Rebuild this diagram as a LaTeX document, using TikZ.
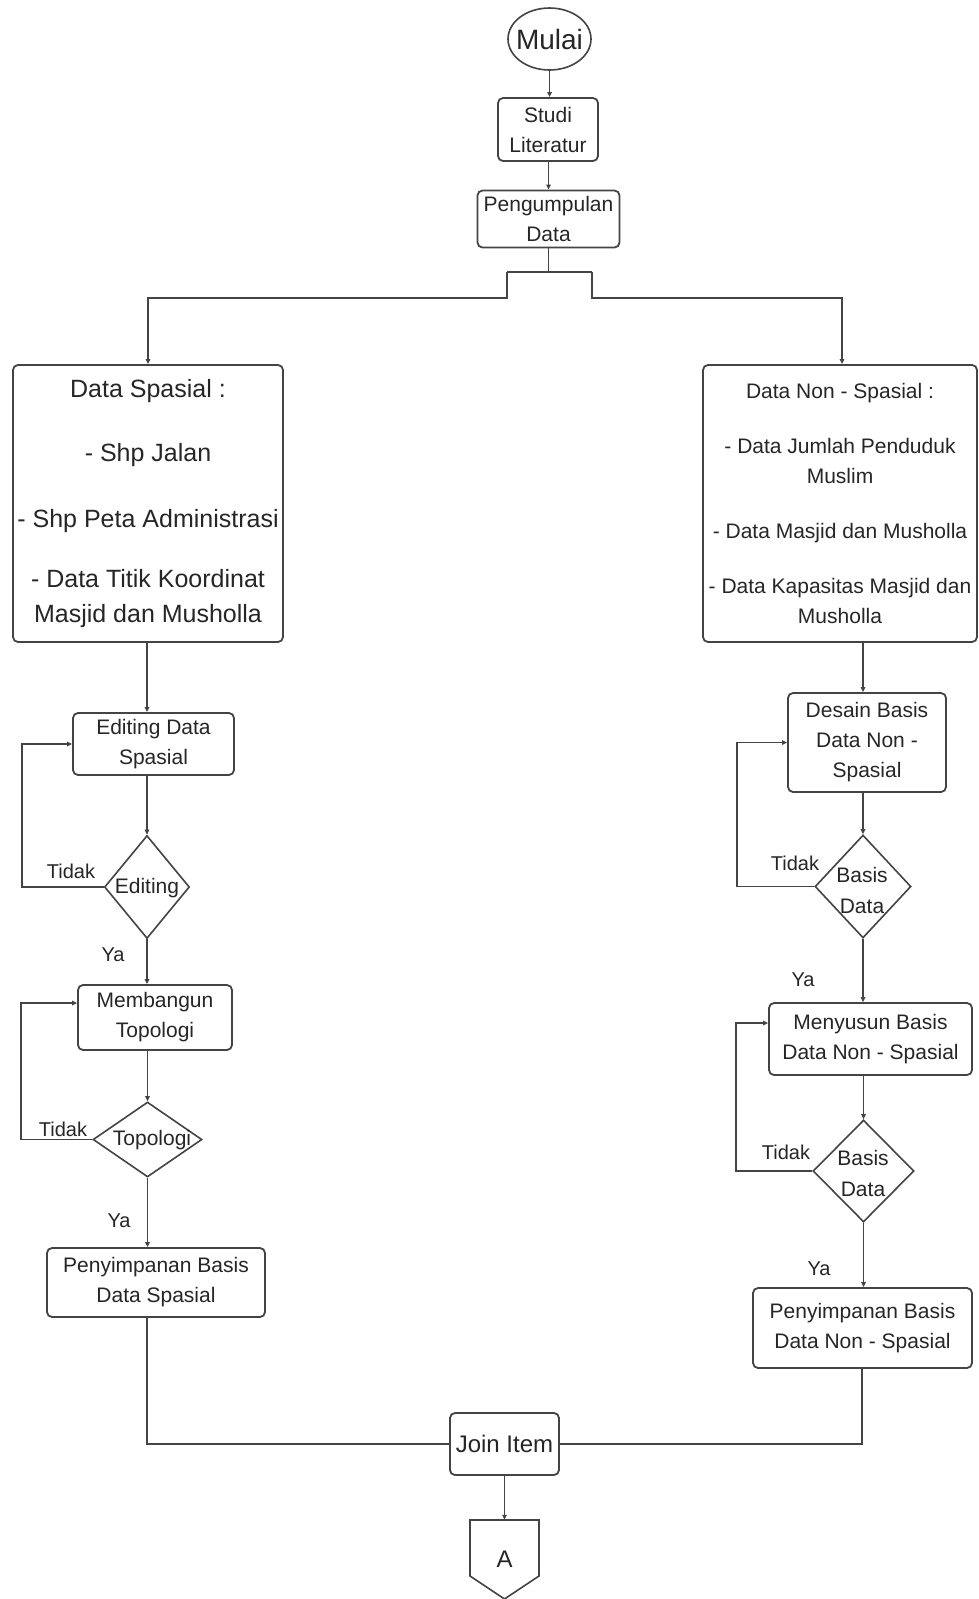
\documentclass[tikz,border=0pt]{standalone}
\usepackage{fontspec}
\setmainfont{Liberation Sans}
\usetikzlibrary{shapes.geometric,arrows.meta,calc}
\definecolor{ln}{HTML}{444444}
\definecolor{tx}{HTML}{262626}
\begin{document}
\begin{tikzpicture}[x=1pt,y=-1pt,
  box/.style={draw=ln, line width=1.8pt, rounded corners=5pt, inner sep=0pt, align=center, text=tx, font=\fontsize{21}{30}\selectfont},
  dia/.style={draw=ln, line width=1.6pt, shape=diamond, inner sep=0pt},
  dtxt/.style={text=tx, align=center, inner sep=0pt, font=\fontsize{21}{31}\selectfont},
  lbl/.style={text=tx, font=\fontsize{20}{24}\selectfont, inner sep=0pt},
  arr/.style={draw=ln, line width=1.3pt, -{Triangle[length=5pt,width=4.5pt]}},
  con/.style={draw=ln, line width=1.3pt},
]
\useasboundingbox[fill=white] (0,0) rectangle (979,1599);

% top
\node[draw=ln, line width=1.6pt, ellipse, minimum width=83pt, minimum height=62pt, inner sep=0pt] (mulai) at (549.5,39) {};
\node[text=tx, inner sep=0pt, font=\fontsize{28}{30}\selectfont] (mulait) at (mulai) {Mulai};
\node[box, minimum width=100pt, minimum height=63pt] (studi) at (548,129.5) {Studi\\Literatur};
\node[box, minimum width=142pt, minimum height=57pt] (peng) at (548.5,219) {Pengumpulan\\Data};

% left column
\node[box, minimum width=270pt, minimum height=277pt, font=\fontsize{25}{35}\selectfont] (dsp) at (148,503.5)
  {Data Spasial :\\[29pt]- Shp Jalan\\[31pt]- Shp Peta Administrasi\\[25pt]- Data Titik Koordinat\\Masjid dan Musholla};
\node[box, minimum width=161pt, minimum height=62pt] (edit) at (153.5,744) {Editing Data\\Spasial};
\node[dia, minimum width=85pt, minimum height=103pt] (d1) at (147,887) {};
\node[dtxt] (d1t) at (147,888) {Editing};
\node[box, minimum width=154pt, minimum height=65pt] (memb) at (155,1017.5) {Membangun\\Topologi};
\node[dia, minimum width=109pt, minimum height=75pt] (d2) at (147.5,1139.5) {};
\node[dtxt] (d2t) at (152,1140) {Topologi};
\node[box, minimum width=218pt, minimum height=69pt] (pen1) at (156,1282.5) {Penyimpanan Basis\\Data Spasial};

% right column
\node[box, minimum width=274pt, minimum height=277pt, font=\fontsize{21}{29.5}\selectfont] (dnsp) at (840,503.5)
  {Data Non - Spasial :\\[25.5pt]- Data Jumlah Penduduk\\Muslim\\[25.5pt]- Data Masjid dan Musholla\\[26pt]- Data Kapasitas Masjid dan\\Musholla};
\node[box, minimum width=158pt, minimum height=99pt] (desain) at (867,742.5) {Desain Basis\\Data Non -\\Spasial};
\node[dia, minimum width=96pt, minimum height=103pt] (d3) at (863,886.5) {};
\node[dtxt] (d3t) at (862,890) {Basis\\Data};
\node[box, minimum width=203pt, minimum height=72pt] (meny) at (870.5,1039) {Menyusun Basis\\Data Non - Spasial};
\node[dia, minimum width=101pt, minimum height=102pt] (d4) at (863.5,1171) {};
\node[dtxt] (d4t) at (863,1173) {Basis\\Data};
\node[box, minimum width=219pt, minimum height=80pt] (pen2) at (862.5,1328) {Penyimpanan Basis\\Data Non - Spasial};

% bottom
\node[box, minimum width=109pt, minimum height=62pt, font=\fontsize{24}{28}\selectfont] (join) at (504.5,1444) {Join Item};
\draw[draw=ln, line width=1.6pt] (470,1520) -- (539,1520) -- (539,1576) -- (504.5,1599) -- (470,1576) -- cycle;
\node[inner sep=0pt, minimum width=69pt, minimum height=79pt, text=tx, font=\fontsize{24}{28}\selectfont] (offp) at (504.5,1559.5) {A};

% labels
\node[lbl] (t1) at (71,871) {Tidak};
\node[lbl] (y1) at (113,955) {Ya};
\node[lbl] (t2) at (63,1129) {Tidak};
\node[lbl] (y2) at (119,1221) {Ya};
\node[lbl] (t3) at (795,863) {Tidak};
\node[lbl] (y3) at (803,980) {Ya};
\node[lbl] (t4) at (786,1152) {Tidak};
\node[lbl] (y4) at (819,1269) {Ya};

% top connectors
\draw[arr] (mulai) -- (mulai |- studi.north);
\draw[arr] (peng |- studi.south) -- (peng.north);

% bracket
\coordinate (bl) at (507,272);
\coordinate (br) at (592,272);
\coordinate (bl2) at (507,298);
\coordinate (br2) at (592,298);
\coordinate (ldrop) at (148,298);
\coordinate (rdrop) at (842,298);
\draw[con] (peng.south) -- (peng.south |- bl);
\draw[con] (bl) -- (br);
\draw[arr] (bl) -- (bl2) -- (ldrop) -- (ldrop |- dsp.north);
\draw[arr] (br) -- (br2) -- (rdrop) -- (rdrop |- dnsp.north);

% left flow
\draw[arr] (d1 |- dsp.south) -- (d1 |- edit.north);
\draw[arr] (d1 |- edit.south) -- (d1.north);
\coordinate (l1) at (22,887);
\draw[arr] (d1.west) -- (l1) |- (edit.west);
\draw[arr] (d1.south) -- (d1.south |- memb.north);
\draw[arr] (d2 |- memb.south) -- (d2.north);
\coordinate (l2) at (21,1139.5);
\coordinate (l2b) at (21,1003);
\draw[arr] (d2.west) -- (l2) -- (l2b) -- (memb.west |- l2b);
\draw[arr] (d2.south) -- (d2.south |- pen1.north);
\coordinate (j1) at (147,1444);
\draw[con] (j1 |- pen1.south) -- (j1) -- (join.west);

% right flow
\draw[arr] (d3 |- dnsp.south) -- (d3 |- desain.north);
\draw[arr] (d3 |- desain.south) -- (d3.north);
\coordinate (r1) at (737,886.5);
\draw[arr] (d3.west) -- (r1) |- (desain.west);
\draw[arr] (d3.south) -- (d3.south |- meny.north);
\draw[arr] (d4 |- meny.south) -- (d4.north);
\coordinate (r2) at (736,1171);
\coordinate (r2b) at (736,1023);
\draw[arr] (d4.west) -- (r2) -- (r2b) -- (meny.west |- r2b);
\draw[arr] (d4.south) -- (d4.south |- pen2.north);
\coordinate (j2) at (862,1444);
\draw[con] (j2 |- pen2.south) -- (j2) -- (join.east);

% to connector
\draw[arr] (join.south) -- (join.south |- offp.north);
\end{tikzpicture}
\end{document}
